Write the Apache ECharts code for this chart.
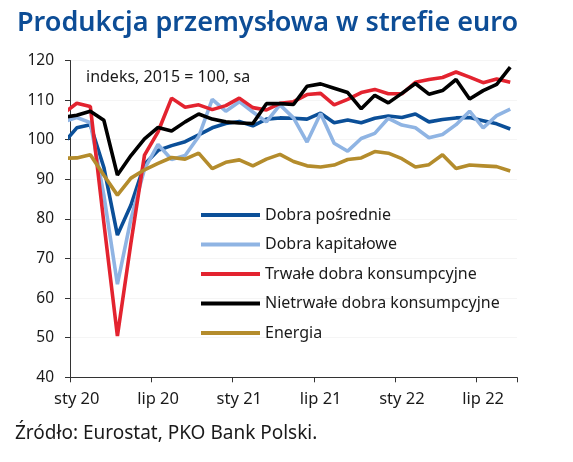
<!DOCTYPE html>
<html>
<head>
<meta charset="utf-8">
<script src="https://cdn.jsdelivr.net/npm/echarts@6/dist/echarts.min.js"></script>
<style>
html,body{margin:0;padding:0;background:#fff;}
#c{width:573px;height:462px;}
</style>
</head>
<body>
<div id="c"></div>
<script>
// Months: Dec 2019 (clipped at the axis start) .. Sep 2022
const categories = ['gru 19',
  'sty 20','lut 20','mar 20','kwi 20','maj 20','cze 20','lip 20','sie 20','wrz 20','paź 20','lis 20','gru 20',
  'sty 21','lut 21','mar 21','kwi 21','maj 21','cze 21','lip 21','sie 21','wrz 21','paź 21','lis 21','gru 21',
  'sty 22','lut 22','mar 22','kwi 22','maj 22','cze 22','lip 22','sie 22','wrz 22'];
const seriesNames = ['Dobra pośrednie','Dobra kapitałowe','Trwałe dobra konsumpcyjne','Nietrwałe dobra konsumpcyjne','Energia'];
const dobraPosrednie = [99.0,
  103.0,103.8,93.0,75.9,83.5,93.8,97.3,98.5,99.5,101.2,103.0,104.1,
  104.6,103.5,105.2,105.5,105.4,105.2,106.7,104.3,105.0,104.3,105.4,106.0,
  105.6,106.5,104.5,105.1,105.5,105.6,104.8,104.0,102.7];
const dobraKapitalowe = [104.5,
  105.6,104.3,86.0,63.5,80.0,92.6,98.8,95.0,96.0,100.8,110.2,107.2,
  109.6,107.0,104.5,108.8,105.5,99.4,106.6,99.1,97.1,100.3,101.6,105.4,
  103.7,103.0,100.5,101.3,103.8,107.2,103.0,106.1,107.7];
const trwale = [106.6,
  109.2,108.4,79.0,50.4,74.0,96.1,102.0,110.5,108.2,108.8,107.6,108.6,
  110.5,108.1,107.5,109.2,109.6,111.4,111.7,108.8,110.2,111.9,112.7,111.6,
  111.6,114.5,115.2,115.7,117.1,115.8,114.4,115.3,114.5];
const nietrwale = [105.6,
  106.2,107.2,104.9,91.1,96.0,100.2,103.1,102.2,104.5,106.5,105.2,104.5,
  104.2,104.1,109.1,109.1,108.9,113.5,114.1,113.0,111.9,107.8,111.2,109.3,
  111.7,114.2,111.5,112.4,115.2,110.3,112.4,114.0,118.3];
const energia = [95.3,
  95.4,96.2,91.0,86.0,90.3,92.4,94.0,95.5,95.1,96.6,92.7,94.3,
  94.9,93.4,95.1,96.3,94.5,93.4,93.1,93.6,95.0,95.4,97.0,96.6,
  95.2,93.1,93.7,96.2,92.7,93.6,93.4,93.2,92.1];
const yTicks = [40,50,60,70,80,90,100,110,120];

const colors = ['#0b4f98','#8fb4e3','#e3232f','#000000','#b48c2c'];
const values = [dobraPosrednie, dobraKapitalowe, trwale, nietrwale, energia];
const FONT = '"Noto Sans", "DejaVu Sans", sans-serif';

const chart = echarts.init(document.getElementById('c'), null, {renderer:'canvas'});
const showEvery6 = function (idx) { return idx >= 1 && (idx - 1) % 6 === 0; };

chart.setOption({
  animation: false,
  backgroundColor: '#ffffff',
  grid: {left: 70, right: 56, top: 60.5, bottom: 84.7, containLabel: false},
  xAxis: {
    type: 'category',
    data: categories,
    min: 1,
    boundaryGap: true,
    axisLine: {lineStyle: {color: '#333333', width: 1}},
    axisTick: {show: true, interval: showEvery6, length: 5, inside: false, lineStyle: {color: '#333333'}},
    axisLabel: {interval: showEvery6, fontFamily: FONT, fontSize: 16.5, color: '#1a1a1a', margin: 13},
    splitLine: {show: false}
  },
  yAxis: {
    type: 'value',
    min: yTicks[0],
    max: yTicks[yTicks.length-1],
    interval: 10,
    axisLine: {show: true, lineStyle: {color: '#333333', width: 1}},
    axisTick: {show: true, length: 5, inside: false, lineStyle: {color: '#333333'}},
    axisLabel: {fontFamily: FONT, fontSize: 15.5, color: '#1a1a1a', margin: 16},
    splitLine: {show: true, lineStyle: {color: '#f5f5f5', width: 1}}
  },
  legend: {
    orient: 'vertical',
    left: 201,
    top: 206,
    padding: 0,
    itemWidth: 59,
    itemHeight: 4,
    itemGap: 11.5,
    icon: 'rect',
    data: seriesNames,
    textStyle: {fontFamily: FONT, fontSize: 16, lineHeight: 18, color: '#1a1a1a'}
  },
  graphic: [
    {type: 'text', left: 17, top: 10, style: {text: 'Produkcja przemysłowa w strefie euro', font: '600 27px "Noto Sans", sans-serif', fill: '#0d4d96'}},
    {type: 'text', left: 86, top: 69, style: {text: 'indeks, 2015 = 100, sa', font: '16px "Noto Sans", sans-serif', fill: '#1a1a1a'}},
    {type: 'text', left: 15, top: 424, style: {text: 'Źródło: Eurostat, PKO Bank Polski.', font: '19px "Noto Sans", sans-serif', fill: '#1a1a1a'}}
  ],
  series: seriesNames.map(function (name, k) {
    return {
      name: name,
      type: 'line',
      data: values[k],
      symbol: 'none',
      clip: true,
      color: colors[k],
      lineStyle: {color: colors[k], width: 3.6},
      itemStyle: {color: colors[k]},
      z: 2 + k
    };
  })
});
</script>
</body>
</html>
